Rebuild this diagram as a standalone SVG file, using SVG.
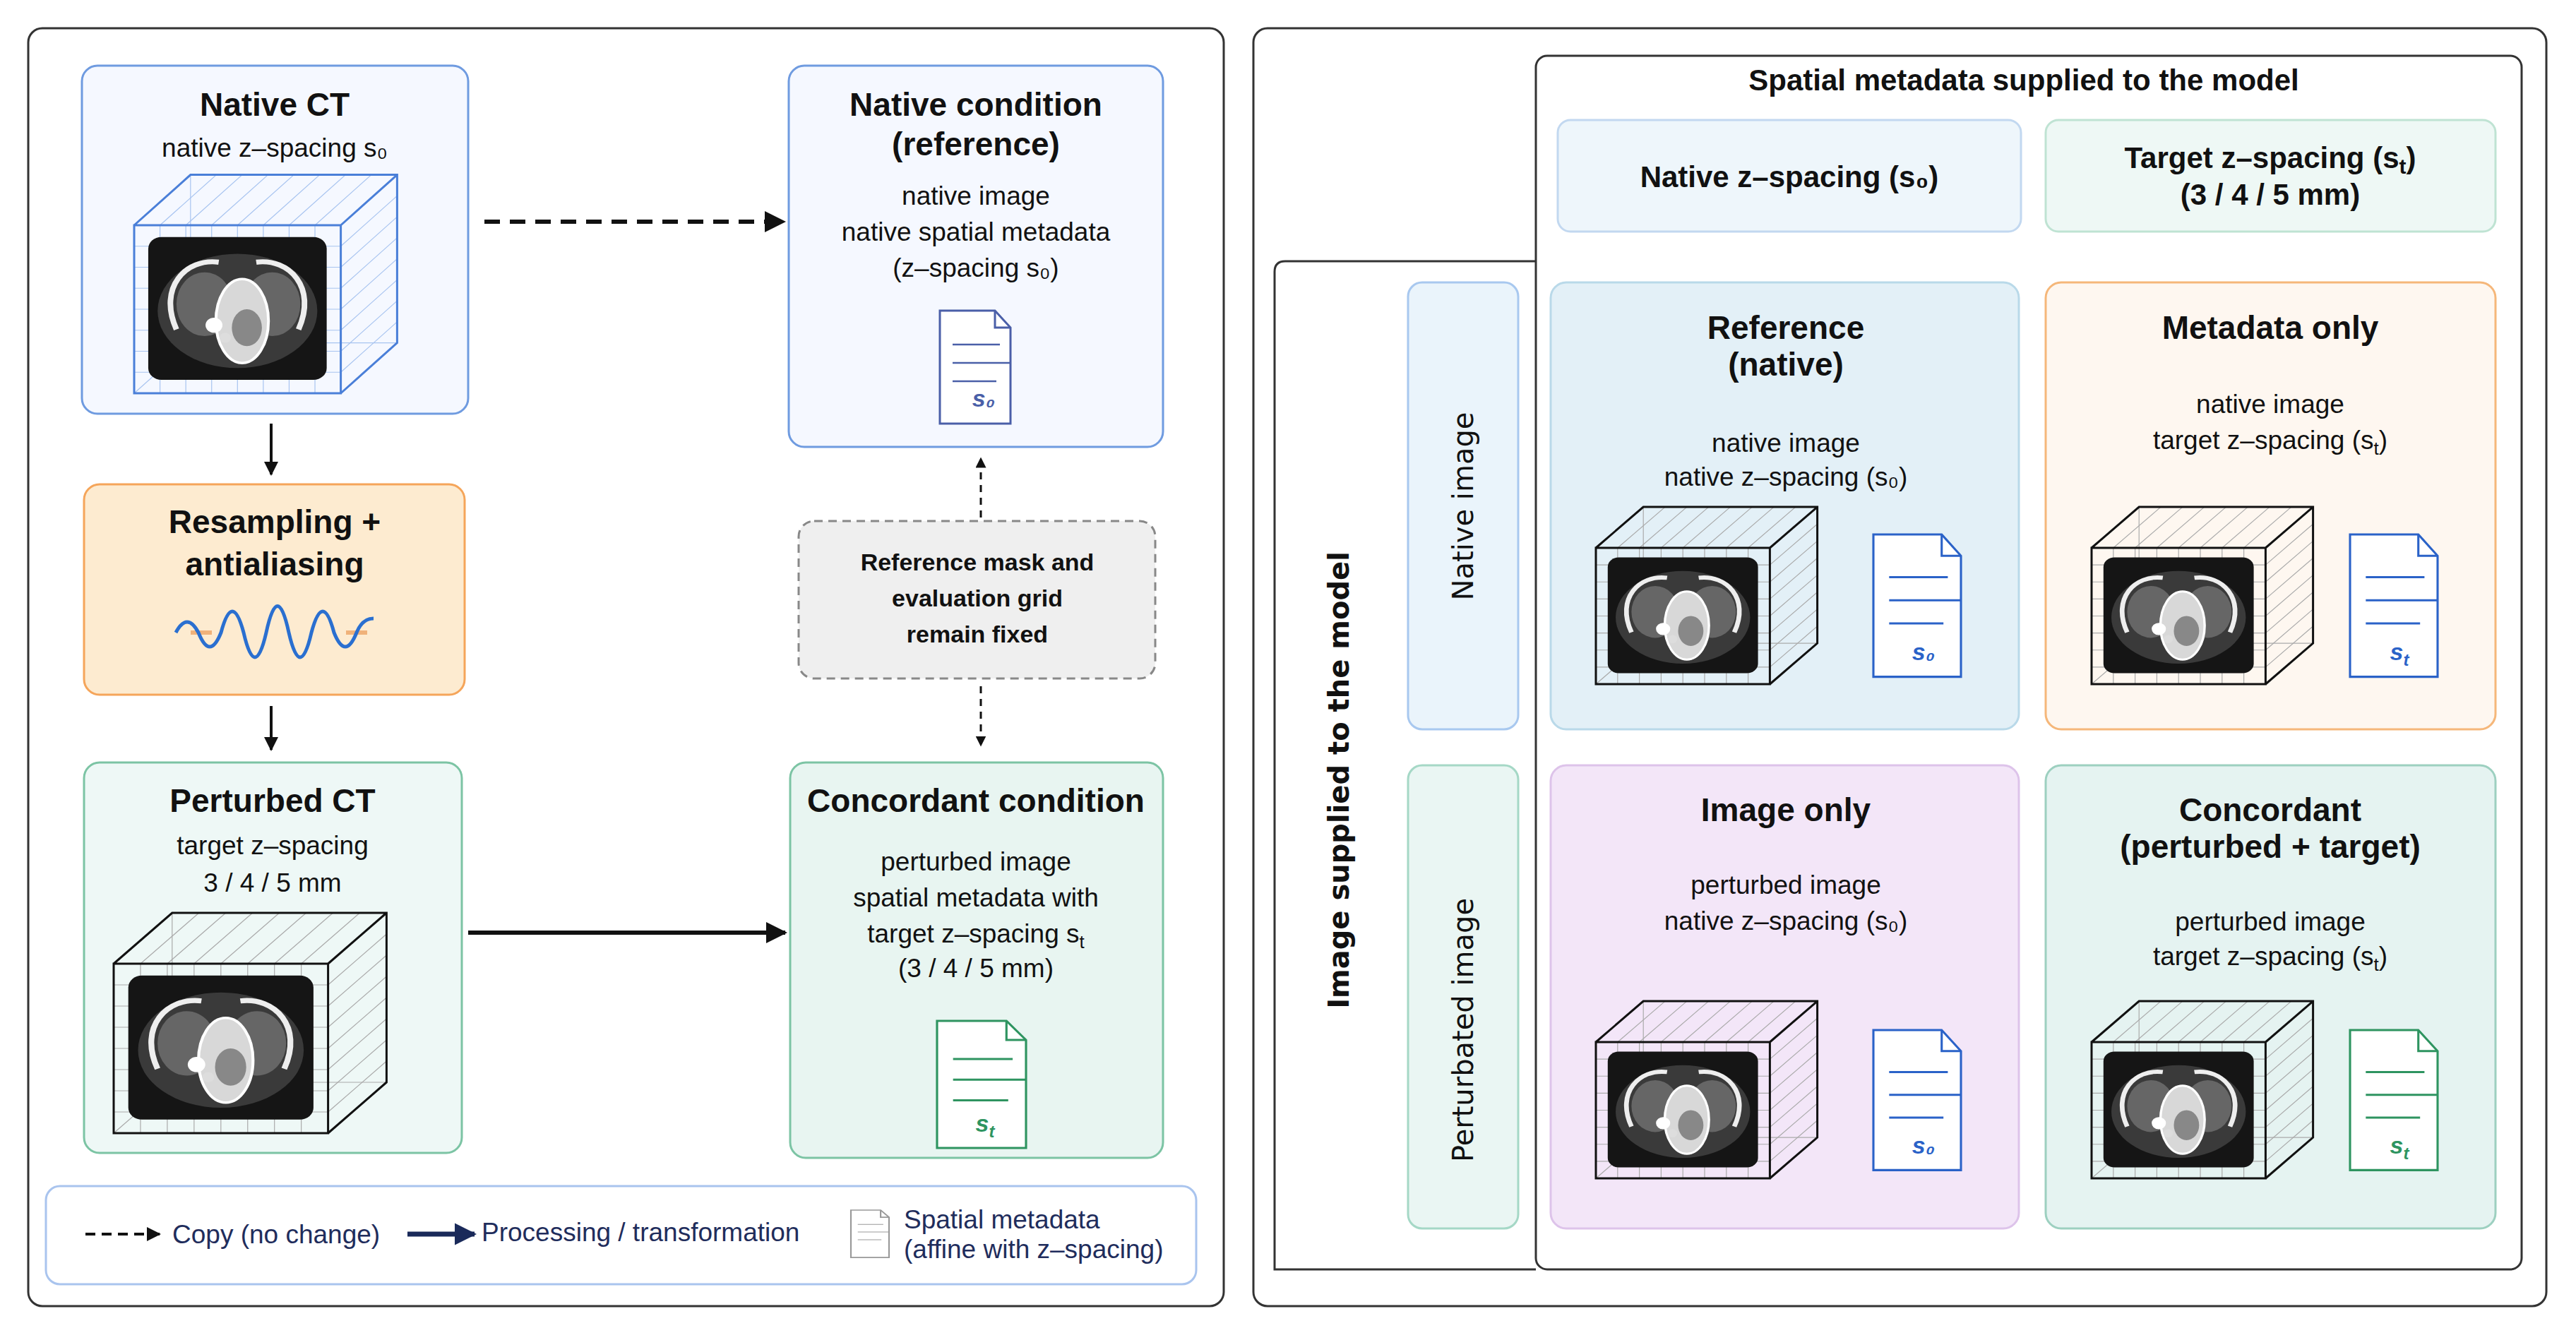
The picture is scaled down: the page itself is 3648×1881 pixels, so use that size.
<svg xmlns="http://www.w3.org/2000/svg" width="3648" height="1881" viewBox="0 0 3648 1881">
<style>
text{font-family:"Liberation Sans",Arial,sans-serif;fill:#111;text-anchor:middle}
.t{font-size:46px;font-weight:bold}
.b{font-size:37px}
.rb{font-size:42px;font-weight:bold}
.m{font-size:34px;font-weight:bold}
.lg{font-size:37px;fill:#1f2d5c;text-anchor:start}
.rot{font-family:"DejaVu Sans",sans-serif;font-size:40px}
.frame{fill:#fff;stroke:#333;stroke-width:3}
.cb{fill:none;stroke:var(--cs,#111);stroke-width:3;vector-effect:non-scaling-stroke}
.cg{fill:none;stroke:var(--cgs,#aaa);stroke-width:1.2;vector-effect:non-scaling-stroke}
.blue{--cs:#4a7fd8;--cgs:#a8c4f0}
.ds{font-size:34px;font-weight:bold;font-style:italic}
</style>
<defs>
<marker id="ah" viewBox="0 0 10 10" refX="9" refY="5" markerWidth="5" markerHeight="5" orient="auto-start-reverse"><path d="M0,0L10,5L0,10z" fill="#111"/></marker>
<marker id="ahn" viewBox="0 0 10 10" refX="9" refY="5" markerWidth="4.5" markerHeight="4.5" orient="auto"><path d="M0,0L10,5L0,10z" fill="#1a2a5a"/></marker>
<g id="ct">
<rect x="0" y="0" width="190" height="170" rx="14" fill="#151515"/>
<ellipse cx="95" cy="88" rx="85" ry="68" fill="#3a3a3a"/>
<path d="M30,110 C10,60 40,25 75,30" fill="none" stroke="#eee" stroke-width="6"/>
<path d="M160,110 C180,60 150,25 115,30" fill="none" stroke="#eee" stroke-width="6"/>
<ellipse cx="60" cy="80" rx="30" ry="38" fill="#666"/>
<ellipse cx="132" cy="80" rx="30" ry="38" fill="#666"/>
<ellipse cx="100" cy="100" rx="28" ry="50" fill="#d8d8d8" stroke="#fff" stroke-width="3"/>
<ellipse cx="105" cy="108" rx="16" ry="22" fill="#888"/>
<circle cx="70" cy="105" r="9" fill="#fff"/>
<circle cx="82" cy="120" r="6" fill="#ddd"/>
</g>
<g id="cubeg">
<path class="cg" d="M27.5,0V200M55,0V200M82.5,0V200M110,0V200M137.5,0V200M165,0V200M192.5,0V200M0,25H220M0,50H220M0,75H220M0,100H220M0,125H220M0,150H220M0,175H220"/>
<path class="cg" d="M27.5,0l60,-60M55,0l60,-60M82.5,0l60,-60M110,0l60,-60M137.5,0l60,-60M165,0l60,-60M192.5,0l60,-60M220,25l60,-60M220,50l60,-60M220,75l60,-60M220,100l60,-60M220,125l60,-60M220,150l60,-60M220,175l60,-60"/>
<path class="cg" d="M60,-60V140H280M60,140L0,200"/>
<use href="#ct" x="15" y="14"/>
<path class="cb" d="M0,0H220V200H0zM0,0L60,-60H280V140L220,200M220,0L280,-60"/>
</g>
<g id="docg">
<path d="M0,0H78L100,24V160H0z"/>
<path d="M78,0V24H100" fill="none"/>
<path d="M18,48H85M18,74H100M18,100H80" fill="none" stroke-width="2.5"/>
</g>
</defs>

<rect class="frame" x="40" y="40" width="1693" height="1810" rx="20"/>
<rect class="frame" x="1775" y="40" width="1831" height="1810" rx="20"/>

<g id="native-ct">
<rect x="116" y="93" width="547" height="493" rx="22" fill="#f5f8ff" stroke="#6f9be0" stroke-width="3"/>
<text class="t" x="389" y="164">Native CT</text>
<text class="b" x="389" y="222">native z–spacing s₀</text>
<g class="blue" transform="translate(190,319) scale(1.33,1.19)"><use href="#cubeg"/></g>
</g>

<g id="native-condition">
<rect x="1117" y="93" width="530" height="540" rx="22" fill="#f5f8ff" stroke="#6f9be0" stroke-width="3"/>
<text class="t" x="1382" y="164">Native condition</text>
<text class="t" x="1382" y="220">(reference)</text>
<text class="b" x="1382" y="290">native image</text>
<text class="b" x="1382" y="341">native spatial metadata</text>
<text class="b" x="1382" y="392">(z–spacing s₀)</text>
<g transform="translate(1331,440)" fill="#fff" stroke="#4a5fa8" stroke-width="3"><use href="#docg"/></g>
<text class="ds" x="1393" y="576" style="fill:#4a5fa8">s₀</text>
</g>

<g id="resampling">
<rect x="119" y="686" width="539" height="298" rx="22" fill="#fdebd0" stroke="#f5a55a" stroke-width="3"/>
<text class="t" x="389" y="755">Resampling +</text>
<text class="t" x="389" y="815">antialiasing</text>
<path d="M270,896H300M490,896H520" stroke="#f0b27a" stroke-width="6"/>
<path d="M249,896 q16,-30 32,0 q16,40 32,0 q16,-60 32,0 q16,70 32,0 q16,-75 32,0 q16,70 32,0 q16,-60 32,0 q16,40 32,0 q8,-20 24,-20" fill="none" stroke="#2a6fd0" stroke-width="5"/>
</g>

<g id="reference-mask">
<rect x="1131" y="738" width="505" height="223" rx="22" fill="#efefef" stroke="#888" stroke-width="3" stroke-dasharray="12 8"/>
<text class="m" x="1384" y="808">Reference mask and</text>
<text class="m" x="1384" y="859">evaluation grid</text>
<text class="m" x="1384" y="910">remain fixed</text>
</g>

<g id="perturbed-ct">
<rect x="119" y="1080" width="535" height="553" rx="22" fill="#eef8f6" stroke="#7cc4a4" stroke-width="3"/>
<text class="t" x="386" y="1150">Perturbed CT</text>
<text class="b" x="386" y="1210">target z–spacing</text>
<text class="b" x="386" y="1263">3 / 4 / 5 mm</text>
<g transform="translate(161,1365) scale(1.38,1.2)"><use href="#cubeg"/></g>
</g>

<g id="concordant-condition">
<rect x="1119" y="1080" width="528" height="560" rx="22" fill="#e8f5f1" stroke="#7cc4a4" stroke-width="3"/>
<text class="t" x="1382" y="1150">Concordant condition</text>
<text class="b" x="1382" y="1233">perturbed image</text>
<text class="b" x="1382" y="1284">spatial metadata with</text>
<text class="b" x="1382" y="1335">target z–spacing s<tspan font-size="26" dy="8">t</tspan></text>
<text class="b" x="1382" y="1384">(3 / 4 / 5 mm)</text>
<g transform="translate(1327,1446) scale(1.26,1.125)" fill="#fff" stroke="#2e9460" stroke-width="2.5"><use href="#docg"/></g>
<text class="ds" x="1395" y="1603" style="fill:#2e9460">s<tspan font-size="24" dy="8">t</tspan></text>
</g>

<g id="legend">
<rect x="65" y="1680" width="1629" height="139" rx="20" fill="#fff" stroke="#a9c4ee" stroke-width="3"/>
<path d="M121,1748H226" stroke="#111" stroke-width="4" stroke-dasharray="14 9" marker-end="url(#ah)"/>
<text class="lg" x="244" y="1761">Copy (no change)</text>
<path d="M577,1748H672" stroke="#1a2a5a" stroke-width="7" marker-end="url(#ahn)"/>
<text class="lg" x="682" y="1758">Processing / transformation</text>
<g transform="translate(1205,1714) scale(0.54,0.42)" fill="#fff" stroke="#999" stroke-width="4"><use href="#docg"/></g>
<text class="lg" x="1280" y="1740">Spatial metadata</text>
<text class="lg" x="1280" y="1782">(affine with z–spacing)</text>
</g>

<g id="connectors">
<path d="M686,314H1110" stroke="#111" stroke-width="6" stroke-dasharray="22 14" marker-end="url(#ah)"/>
<path d="M384,600V672" stroke="#111" stroke-width="4" marker-end="url(#ah)"/>
<path d="M384,1000V1062" stroke="#111" stroke-width="4" marker-end="url(#ah)"/>
<path d="M1389,733V649" stroke="#111" stroke-width="3" stroke-dasharray="10 8" marker-end="url(#ah)"/>
<path d="M1389,972V1056" stroke="#111" stroke-width="3" stroke-dasharray="10 8" marker-end="url(#ah)"/>
<path d="M663,1321H1112" stroke="#111" stroke-width="6" marker-end="url(#ah)"/>
</g>

<g id="metadata-frame">
<rect x="2175" y="79" width="1396" height="1719" rx="16" fill="none" stroke="#333" stroke-width="3"/>
<text class="rb" x="2866" y="128">Spatial metadata supplied to the model</text>
</g>
<g id="image-frame">
<path d="M2175,370H1820Q1805,370 1805,385V1798H2175" fill="none" stroke="#333" stroke-width="3"/>
<text class="rot" font-weight="bold" transform="translate(1910,1105) rotate(-90)">Image supplied to the model</text>
</g>

<g id="hdr-native">
<rect x="2206" y="170" width="656" height="158" rx="18" fill="#eef6fb" stroke="#c2d8f0" stroke-width="3"/>
<text class="rb" x="2534" y="265">Native z–spacing (s₀)</text>
</g>
<g id="hdr-target">
<rect x="2897" y="170" width="637" height="158" rx="18" fill="#eef8f5" stroke="#bfe3d3" stroke-width="3"/>
<text class="rb" x="3215" y="238">Target z–spacing (s<tspan font-size="30" dy="8">t</tspan><tspan dy="-8">)</tspan></text>
<text class="rb" x="3215" y="290">(3 / 4 / 5 mm)</text>
</g>

<g id="side-native">
<rect x="1994" y="400" width="156" height="633" rx="20" fill="#eaf4fb" stroke="#a8c8ef" stroke-width="3"/>
<text class="rot" transform="translate(2086,717) rotate(-90)">Native image</text>
</g>
<g id="side-perturbed">
<rect x="1994" y="1084" width="156" height="656" rx="20" fill="#eaf6f3" stroke="#a5d8c6" stroke-width="3"/>
<text class="rot" transform="translate(2086,1459) rotate(-90)">Perturbated image</text>
</g>

<g id="cell-reference">
<rect x="2196" y="400" width="663" height="633" rx="22" fill="#e3f0f7" stroke="#b9d9e9" stroke-width="3"/>
<text class="t" x="2529" y="480">Reference</text>
<text class="t" x="2529" y="532">(native)</text>
<text class="b" x="2529" y="640">native image</text>
<text class="b" x="2529" y="688">native z–spacing (s₀)</text>
<g transform="translate(2260,776) scale(1.12,0.965)"><use href="#cubeg"/></g>
<g transform="translate(2653,757) scale(1.24,1.26)" fill="#fff" stroke="#2a62c8" stroke-width="2.5"><use href="#docg"/></g>
<text class="ds" x="2724" y="935" style="fill:#2a62c8">s₀</text>
</g>

<g id="cell-metadata-only">
<rect x="2897" y="400" width="637" height="633" rx="22" fill="#fef7f0" stroke="#f5b77a" stroke-width="3"/>
<text class="t" x="3215" y="480">Metadata only</text>
<text class="b" x="3215" y="585">native image</text>
<text class="b" x="3215" y="636">target z–spacing (s<tspan font-size="26" dy="8">t</tspan><tspan dy="-8">)</tspan></text>
<g transform="translate(2962,776) scale(1.12,0.965)"><use href="#cubeg"/></g>
<g transform="translate(3328,757) scale(1.24,1.26)" fill="#fff" stroke="#2a62c8" stroke-width="2.5"><use href="#docg"/></g>
<text class="ds" x="3398" y="935" style="fill:#2a62c8">s<tspan font-size="24" dy="8">t</tspan></text>
</g>

<g id="cell-image-only">
<rect x="2196" y="1084" width="663" height="656" rx="22" fill="#f3e6f8" stroke="#ddc3ea" stroke-width="3"/>
<text class="t" x="2529" y="1163">Image only</text>
<text class="b" x="2529" y="1266">perturbed image</text>
<text class="b" x="2529" y="1317">native z–spacing (s₀)</text>
<g transform="translate(2260,1476) scale(1.12,0.965)"><use href="#cubeg"/></g>
<g transform="translate(2653,1459) scale(1.24,1.24)" fill="#fff" stroke="#2a62c8" stroke-width="2.5"><use href="#docg"/></g>
<text class="ds" x="2724" y="1634" style="fill:#2a62c8">s₀</text>
</g>

<g id="cell-concordant">
<rect x="2897" y="1084" width="637" height="656" rx="22" fill="#e5f3f1" stroke="#9dd0c0" stroke-width="3"/>
<text class="t" x="3215" y="1163">Concordant</text>
<text class="t" x="3215" y="1215">(perturbed + target)</text>
<text class="b" x="3215" y="1318">perturbed image</text>
<text class="b" x="3215" y="1367">target z–spacing (s<tspan font-size="26" dy="8">t</tspan><tspan dy="-8">)</tspan></text>
<g transform="translate(2962,1476) scale(1.12,0.965)"><use href="#cubeg"/></g>
<g transform="translate(3328,1459) scale(1.24,1.24)" fill="#fff" stroke="#2e9460" stroke-width="2.5"><use href="#docg"/></g>
<text class="ds" x="3398" y="1634" style="fill:#2e9460">s<tspan font-size="24" dy="8">t</tspan></text>
</g>
</svg>
